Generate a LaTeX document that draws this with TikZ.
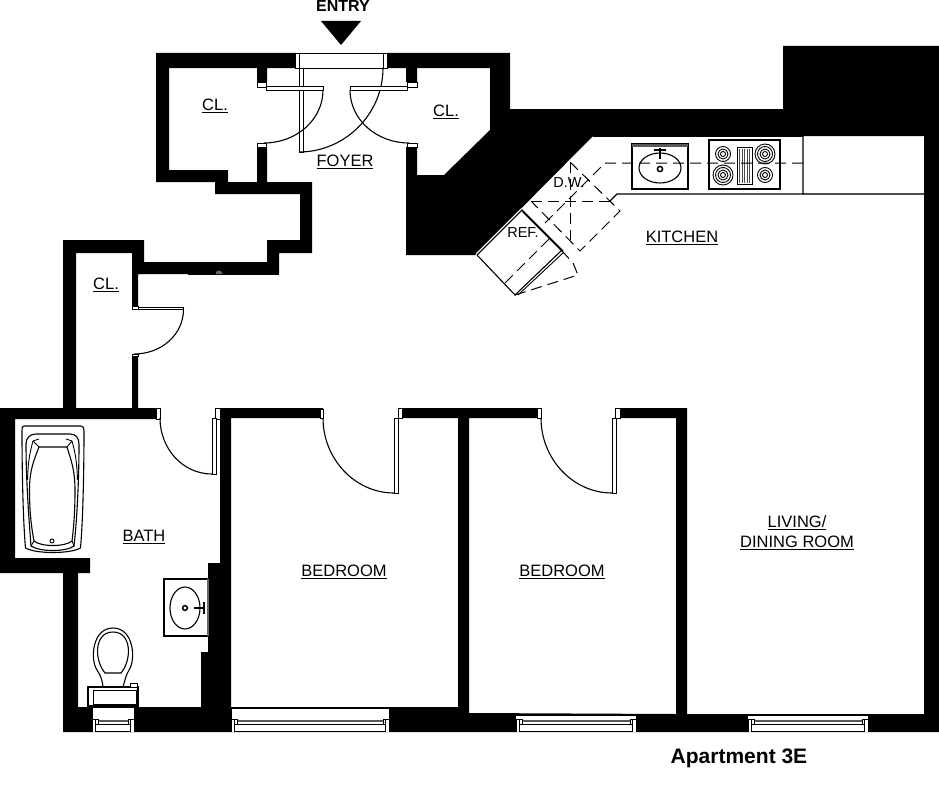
\documentclass[tikz,border=0pt]{standalone}
\usepackage{fontspec}
\setmainfont{Liberation Sans}
\tikzset{
  wall/.style={fill=black,draw=none},
  thin line/.style={draw=black,line width=1.1pt},
  fine/.style={draw=black,line width=0.9pt},
  doorleaf/.style={draw=black,line width=0.85pt,fill=white},
  swing/.style={draw=black,line width=1.1pt},
  dash line/.style={draw=black,line width=1pt,dash pattern=on 11pt off 6pt},
  jamb/.style={draw=black,line width=0.9pt,fill=white},
  room/.style={font=\fontsize{16.5}{20}\selectfont,inner sep=0pt,align=center},
  small label/.style={font=\fontsize{14.5}{16}\selectfont,inner sep=0pt},
}
\newcommand{\winunit}[3]{%
  \fill[white] (#1,#3) rectangle (#2,731.5);
  \draw[fine] (#1,719) -- (#1,731.5) (#1+3.5,719) -- (#1+3.5,731.5) -- (#2-3.5,731.5) (#2-3.5,719) -- (#2-3.5,731.5) (#2,719) -- (#2,731.5);
  \draw[fine] (#1,719) -- (#1+6,719) (#2-6,719) -- (#2,719) (#1+3.5,724) -- (#2-3.5,724);
  \draw[black!65,line width=1.6pt] (#1+6,721) -- (#2-6,721);
  \draw[fine] (#1+6,719) -- (#1+6,724) (#2-6,719) -- (#2-6,724);
}
\begin{document}
\begin{tikzpicture}[x=1pt,y=-1pt]
\useasboundingbox (0,0) rectangle (939,800);
\fill[white] (0,0) rectangle (939,800);

% upper walls and foyer block
\fill[wall] (156,53) -- (295,53) -- (295,68) -- (267,68) -- (267,82) -- (257,82) -- (257,68) -- (169,68) -- (169,170) -- (228,170) -- (228,182) -- (257,182) -- (257,147) -- (267,147) -- (267,182) -- (312,182) -- (312,253) -- (279,253) -- (279,274) -- (132,274) -- (132,262) -- (267,262) -- (267,240) -- (300,240) -- (300,194) -- (215,194) -- (215,182) -- (156,182) -- cycle;
\fill[wall] (387,53) -- (510,53) -- (510,109) -- (783,109) -- (783,46) -- (939,46) -- (939,732) -- (63,732) -- (63,573) -- (0,573) -- (0,408) -- (63,408) -- (63,240) -- (144,240) -- (144,274) -- (138,274) -- (138,306) -- (132,306) -- (132,253) -- (76,253) -- (76,408) -- (132,408) -- (132,354) -- (138,354) -- (138,408) -- (160,408) -- (160,419) -- (15,419) -- (15,558) -- (90,558) -- (90,573) -- (78,573) -- (78,707) -- (201,707) -- (201,652) -- (208,652) -- (208,563) -- (220,563) -- (220,419) -- (215,419) -- (215,408) -- (323,408) -- (323,418) -- (231,418) -- (231,707) -- (458,707) -- (458,418) -- (398,418) -- (398,408) -- (541,408) -- (541,418) -- (469,418) -- (469,713) -- (676,714) -- (676,418) -- (615,418) -- (615,408) -- (687,408) -- (687,714) -- (924,714) -- (924,136) -- (593,136) -- (475,255) -- (406,255) -- (406,147) -- (417,147) -- (417,175) -- (444,175) -- (490,130) -- (490,68) -- (417,68) -- (417,82) -- (406,82) -- (406,68) -- (387,68) -- cycle;

% door jambs in walls
\draw[jamb] (320,409) rectangle (323,418);
\draw[jamb] (215.5,408.5) rectangle (220,419);
\draw[jamb] (398,408.5) rectangle (402,418);
\draw[jamb] (537,408.5) rectangle (541,418);
\draw[jamb] (615,408.5) rectangle (620,418);
\draw[jamb] (156,408.5) rectangle (160,419);
\draw[jamb] (257,82) rectangle (266,87);
\draw[jamb] (257,143) rectangle (266,147);
\draw[jamb] (407,82) rectangle (417,87);
\draw[jamb] (407,143) rectangle (417,147);
\draw[jamb] (132,306) rectangle (138,309);
\draw[jamb] (132,354) rectangle (138,356);

% entry
\draw[fine] (295,53.5) rectangle (387,68);
\draw[fine] (299,53.5) -- (299,68) (383,53.5) -- (383,68);
\node[inner sep=0pt,font=\bfseries\fontsize{16}{18}\selectfont] (entry) at (343,6) {ENTRY};
\fill[black] (321,21) -- (361,21) -- (341,45) -- cycle;
\draw[doorleaf] (299,68) rectangle (303,152);
\draw[swing] (299,152) .. controls (345,152) and (383,114) .. (383,68);

% closet doors
\draw[doorleaf] (266,86) rectangle (323,90);
\draw[swing] (323,90) .. controls (323,120) and (296,143) .. (264,143);
\draw[doorleaf] (350,86) rectangle (407,90);
\draw[swing] (350,90) .. controls (350,120) and (377,143) .. (409,143);
\draw[doorleaf] (138,307) rectangle (183.5,309.5);
\draw[swing] (183.5,309.5) .. controls (183.5,334) and (162,354) .. (134,354);

% room doors
\draw[doorleaf] (212,418) rectangle (216,474);
\draw[swing] (160,418) .. controls (160,449) and (183,474) .. (212,474);
\draw[doorleaf] (394,418) rectangle (398,493);
\draw[swing] (323,418) .. controls (323,459) and (355,493) .. (394,493);
\draw[doorleaf] (612,418) rectangle (616,493);
\draw[swing] (541,418) .. controls (541,459) and (573,493) .. (612,493);

% small mark under the wall
\fill[black] (188,274) rectangle (279,274.8);
\fill[black!60] (215.5,274) arc[start angle=180,end angle=360,radius=3.5];

% windows
\fill[white] (231,709) rectangle (389,719);
\fill[wall] (231,707) rectangle (458,708.5);
\winunit{231}{389}{716}
\draw[fine] (231,709) -- (231,719) (389,709) -- (389,719);
\fill[white] (92,707.5) rectangle (134,719);
\winunit{92}{134}{716}
\draw[fine] (92,708) -- (92,719) (134,708) -- (134,719);
\winunit{516}{636}{716}
\winunit{748}{868}{716}
\draw[fine] (516,715.5) -- (636,715.5) (748,715.5) -- (868,715.5);
\fill[white] (803,136.5) rectangle (924,194);

% kitchen counter
\draw[thin line,black!70] (803,194) -- (924,194);
\draw[draw=black,line width=1.3pt] (803,136) -- (803,194) -- (617,194) -- (610,201);
\draw[fine] (593,136) -- (803,136);

% sink
\draw[thin line,fill=white] (632,144) rectangle (688,189);
\fill[black!65] (632,144) rectangle (688,147);
\draw[thin line] (660,168) ellipse[x radius=21,y radius=15];
\draw[line width=1.5pt] (660,169) circle[radius=2.6];
\draw[line width=1.8pt] (660,148) -- (660,159);
\draw[line width=2pt] (654,150) -- (666,150);
% stove
\draw[thin line,fill=white] (709,140) rectangle (780,189);
\foreach \cx/\cy in {723/154,765/175}{
  \draw[fine] (\cx,\cy) circle[radius=7.5] (\cx,\cy) circle[radius=5] (\cx,\cy) circle[radius=2.5];
}
\foreach \cx/\cy in {765/154,723/175}{
  \draw[fine] (\cx,\cy) circle[radius=10] (\cx,\cy) circle[radius=7.5] (\cx,\cy) circle[radius=5] (\cx,\cy) circle[radius=2.5];
}
\draw[fine] (737,147) rectangle (752,184.5);
\foreach \gx in {739.5,742,744.5,747,749.5}{\draw[black!70,line width=0.7pt] (\gx,149) -- (\gx,183);}

% dashed appliance lines
\draw[dash line] (803,163) -- (605,163) -- (543,225);
\draw[dash line] (570,162) -- (620,211) -- (580,251) -- (531,201);
\draw[dash line] (531,201) -- (610,201);
\draw[dash line] (570,162) -- (570,240);
\draw[dash line] (505,283) -- (550,238);
\draw[dash line] (515,295) -- (578,275) -- (573,263) -- (563,252);

% refrigerator
\draw[thin line] (477,255) -- (522,210) -- (563,251) ;
\draw[thin line] (477,255) -- (515,295) -- (562,250);
\draw[fine] (518,295) -- (564,252);
\draw[draw=white,line width=1pt] (476,254) -- (521,209);
\draw[thin line] (522.5,211.5) -- (563,252);

% bath tub
\draw[thin line] (24,426) -- (81,426) .. controls (83.5,426) and (84,428) .. (84,431) .. controls (84,470) and (83,520) .. (80.5,548) .. controls (70,554) and (36,554) .. (25.5,548) .. controls (23,520) and (22,470) .. (22,431) .. controls (22,428) and (22,426) .. (24,426) -- cycle;
\draw[thin line] (36,434) -- (70,434) .. controls (76,434) and (79,438) .. (79,444) .. controls (79,480) and (77,520) .. (74,546) .. controls (66,552) and (40,552) .. (31,546) .. controls (29,520) and (26,480) .. (26,444) .. controls (26,438) and (30,434) .. (36,434) -- cycle;
\draw[thin line] (39,447) -- (67,447) .. controls (71,460) and (75,470) .. (75,490) .. controls (75,510) and (74,525) .. (72,541) .. controls (65,547) and (41,547) .. (34,541) .. controls (31,525) and (29.5,510) .. (29.5,490) .. controls (29.5,470) and (34,460) .. (39,447) -- cycle;
\draw[fine] (39,439) -- (33,441) .. controls (29,455) and (28,465) .. (27.5,480);
\draw[fine] (66,439) -- (72,441) .. controls (76,455) and (77,465) .. (77.5,480);
\draw[fine] (33,441) -- (39,447) (72,441) -- (67,447);
\draw[fine] (31,546) -- (34,541) (74,546) -- (72,541);
\draw[fine] (52,541) circle[radius=2];

% toilet
\draw[thin line] (103,687) .. controls (102,678) and (100,675) .. (97,670) .. controls (90,660) and (92,628) .. (113,628) .. controls (134,628) and (136,660) .. (129,670) .. controls (126,675) and (125,680) .. (123,687);
\draw[thin line] (105,673) -- (121,673) .. controls (132,660) and (132,632) .. (113,632) .. controls (94,632) and (94,660) .. (105,673) -- cycle;
\draw[line width=1.2pt,fill=white] (88,687) rectangle (138,706);
\draw[fine] (93,690) rectangle (136,704);
\draw[fine,fill=white] (130,683.5) rectangle (137,687);

% vanity
\draw[thin line,fill=white] (164,579) rectangle (208,636);
\fill[black!60] (207,579) rectangle (208.5,636);
\draw[thin line] (185,608) ellipse[x radius=15,y radius=21];
\draw[line width=1.5pt] (185,608) circle[radius=2.4];
\draw[line width=1.8pt] (194,608) -- (204,608);
\draw[line width=2pt] (204,602) -- (204,614);

% labels
\node[room] (foyer) at (345,162) {\underline{FOYER}};
\node[room] (clA) at (215,106) {\underline{CL.}};
\node[room] (clB) at (446,112) {\underline{CL.}};
\node[room] (clC) at (106,285) {\underline{CL.}};
\node[room] (kitchen) at (682,238) {\underline{KITCHEN}};
\node[room] (bath) at (144,537) {\underline{BATH}};
\node[room] (bedA) at (344,572) {\underline{BEDROOM}};
\node[room] (bedB) at (562,572) {\underline{BEDROOM}};
\node[room] (living) at (797,533) {\underline{LIVING/}\\\underline{DINING ROOM}};
\node[small label] (ref) at (523,233) {REF.};
\node[small label] (dw) at (569,183) {D.W.};
\node[inner sep=0pt,font=\bfseries\fontsize{21}{22}\selectfont] (apt) at (739,758) {Apartment 3E};
\end{tikzpicture}
\end{document}
